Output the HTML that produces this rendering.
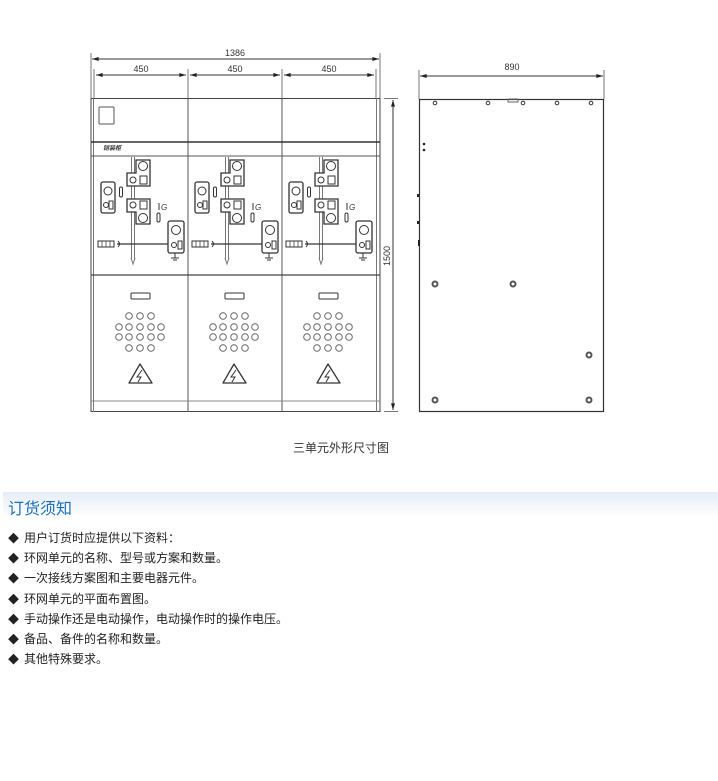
<!DOCTYPE html>
<html><head><meta charset="utf-8">
<style>
body{margin:0;width:718px;height:781px;background:#fff;position:relative;overflow:hidden;font-family:"Liberation Sans","Noto Sans CJK SC",sans-serif;}
svg{position:absolute;left:0;top:0}
.cap{position:absolute;left:293px;top:439px;font-size:12px;color:#333;}
.band{position:absolute;left:3px;top:492px;width:715px;height:25px;background:linear-gradient(#e6edf8,#f7f9fd 70%,#fff);}
.title{position:absolute;left:8px;top:495px;font-size:16px;color:#1a6fc0;}
.list{position:absolute;left:8px;top:528px;font-size:12px;color:#222;}
.list div{height:20.2px;line-height:20.2px;white-space:nowrap;}
.list div:before{content:"◆";margin-right:5px;font-size:11px;}
</style></head><body>
<svg width="718" height="470" viewBox="0 0 718 470" fill="none" stroke="#333" stroke-width="1">
<defs>
<marker id="a" viewBox="0 0 10 6" refX="10" refY="3" markerWidth="7" markerHeight="4" orient="auto-start-reverse"><path d="M0,0L10,3L0,6Z" fill="#222" stroke="none"/></marker>
<g id="col" stroke="#333">
  <line x1="131.5" y1="157" x2="131.5" y2="260" stroke="#777"/>
  <line x1="134.5" y1="157" x2="134.5" y2="260" stroke="#777"/>
  <path d="M131,258 L133,264 L135,258" stroke="#777"/>
  <path d="M138,160 H150 V186 H127 V173 H136 V160Z" stroke-width="1.3" fill="#fff"/>
  <circle cx="143" cy="166" r="4.5"/>
  <circle cx="133" cy="180" r="3"/>
  <rect x="140" y="176" width="7" height="8"/>
  <rect x="101" y="182" width="14" height="31" rx="2" stroke-width="1.3"/>
  <circle cx="108" cy="191" r="4"/>
  <circle cx="106" cy="205" r="2.5"/>
  <rect x="109" y="201" width="4" height="8"/>
  <rect x="119.5" y="187" width="3" height="10" rx="1.5"/>
  <path d="M127,199 H150 V224 H136 V212 H127Z" stroke-width="1.3" fill="#fff"/>
  <circle cx="133" cy="205" r="3"/>
  <rect x="140" y="201" width="7" height="8"/>
  <circle cx="143" cy="218" r="4.5"/>
  <line x1="159" y1="203" x2="159" y2="210"/>
  <text x="161" y="210" font-size="8" font-style="italic" fill="#333" stroke="none">G</text>
  <rect x="157" y="213" width="3" height="9" rx="1.5"/>
  <line x1="117" y1="244" x2="173" y2="244" stroke-width="1.2"/>
  <rect x="168" y="221" width="16" height="32" rx="2" stroke-width="1.3" fill="#fff"/>
  <circle cx="176" cy="230" r="4.5"/>
  <circle cx="174" cy="245" r="2.5"/>
  <rect x="178" y="241" width="4" height="8"/>
  <path d="M175,253 V258 M171,258 H179 M173,260 H177"/>
  <rect x="98" y="241" width="16" height="6"/>
  <path d="M102,241 V247 M106,241 V247 M110,241 V247" stroke-width=".7"/>
  <path d="M118,241 Q121,244 118,247 M121,244 H124"/>
  <rect x="131" y="293" width="19" height="6" rx="1"/>
  <g stroke="#666">
    <circle cx="129" cy="316" r="3.3"/><circle cx="140" cy="316" r="3.3"/><circle cx="151" cy="316" r="3.3"/>
    <circle cx="119" cy="327" r="3.3"/><circle cx="129" cy="327" r="3.3"/><circle cx="140" cy="327" r="3.3"/><circle cx="151" cy="327" r="3.3"/><circle cx="161" cy="327" r="3.3"/>
    <circle cx="119" cy="337" r="3.3"/><circle cx="129" cy="337" r="3.3"/><circle cx="140" cy="337" r="3.3"/><circle cx="151" cy="337" r="3.3"/><circle cx="161" cy="337" r="3.3"/>
    <circle cx="129" cy="348" r="3.3"/><circle cx="140" cy="348" r="3.3"/><circle cx="151" cy="348" r="3.3"/>
  </g>
  <path d="M140,364 L152,383 H129Z" stroke-width="1.3" stroke-linejoin="round"/>
  <path d="M142,370 L137,377 H141 L138,382" stroke-width="1"/>
</g>
</defs>
<line x1="91" y1="53" x2="91" y2="98" stroke="#777"/>
<line x1="380" y1="53" x2="380" y2="98" stroke="#777"/>
<line x1="92" y1="59" x2="379" y2="59" marker-start="url(#a)" marker-end="url(#a)"/>
<text x="235" y="56" font-size="9" fill="#333" stroke="none" text-anchor="middle">1386</text>
<line x1="94" y1="69" x2="94" y2="98" stroke="#777"/>
<line x1="188" y1="69" x2="188" y2="98" stroke="#777"/>
<line x1="282" y1="69" x2="282" y2="98" stroke="#777"/>
<line x1="376" y1="69" x2="376" y2="98" stroke="#777"/>
<line x1="96" y1="75" x2="186" y2="75" marker-start="url(#a)" marker-end="url(#a)"/>
<line x1="190" y1="75" x2="280" y2="75" marker-start="url(#a)" marker-end="url(#a)"/>
<line x1="284" y1="75" x2="374" y2="75" marker-start="url(#a)" marker-end="url(#a)"/>
<text x="141" y="72" font-size="9" fill="#333" stroke="none" text-anchor="middle">450</text>
<text x="235" y="72" font-size="9" fill="#333" stroke="none" text-anchor="middle">450</text>
<text x="329" y="72" font-size="9" fill="#333" stroke="none" text-anchor="middle">450</text>
<rect x="91" y="98.5" width="289" height="313" stroke="#444"/>
<line x1="93.5" y1="98" x2="93.5" y2="412" stroke="#777"/>
<line x1="376.5" y1="98" x2="376.5" y2="412" stroke="#777"/>
<line x1="188" y1="98" x2="188" y2="412" stroke="#555"/>
<line x1="282" y1="98" x2="282" y2="412" stroke="#555"/>
<line x1="91" y1="142" x2="380" y2="142" stroke-width="1.5" stroke="#333"/>
<line x1="91" y1="156" x2="380" y2="156" stroke="#555"/>
<line x1="91" y1="275" x2="380" y2="275" stroke="#444" stroke-width="1.2"/>
<line x1="91" y1="401" x2="380" y2="401" stroke="#888"/>
<rect x="99" y="107" width="15" height="17" rx="1" stroke="#555"/>
<text x="103" y="150" font-size="6" font-weight="bold" font-style="italic" fill="#333" stroke="none">铠装柜</text>
<use href="#col"/>
<use href="#col" transform="translate(94,0)"/>
<use href="#col" transform="translate(188,0)"/>
<line x1="384" y1="98.5" x2="398" y2="98.5" stroke="#777"/>
<line x1="384" y1="411.5" x2="398" y2="411.5" stroke="#777"/>
<line x1="393" y1="100" x2="393" y2="410" marker-start="url(#a)" marker-end="url(#a)"/>
<text x="0" y="0" font-size="9" fill="#333" stroke="none" text-anchor="middle" transform="translate(390,256) rotate(-90)">1500</text>
<line x1="419" y1="70" x2="419" y2="99" stroke="#777"/>
<line x1="604" y1="70" x2="604" y2="99" stroke="#777"/>
<line x1="420" y1="76" x2="603" y2="76" marker-start="url(#a)" marker-end="url(#a)"/>
<text x="512" y="70" font-size="9" fill="#333" stroke="none" text-anchor="middle">890</text>
<rect x="419.5" y="99.5" width="184" height="312" stroke="#333" stroke-width="1.2"/>
<rect x="508" y="99" width="10" height="3" stroke="#666"/>
<g stroke="#333" stroke-width="1"><circle cx="435" cy="103" r="1.8"/><circle cx="488" cy="103" r="1.8"/><circle cx="523" cy="103" r="1.8"/><circle cx="557" cy="103" r="1.8"/><circle cx="591" cy="103" r="1.8"/></g>
<g fill="#222" stroke="none"><circle cx="424" cy="144" r="1.3"/><circle cx="424" cy="150" r="1.3"/><rect x="417" y="194" width="2" height="3"/><rect x="417" y="221" width="2" height="3"/><rect x="418" y="240" width="2" height="6"/></g>
<g stroke="#555" stroke-width="2"><circle cx="435" cy="284" r="2.5"/><circle cx="513" cy="284" r="2.5"/><circle cx="589" cy="355" r="2.5"/><circle cx="435" cy="400" r="2.5"/><circle cx="589" cy="400" r="2.5"/></g>
</svg>
<div class="cap">三单元外形尺寸图</div>
<div class="band"></div>
<div class="title">订货须知</div>
<div class="list">
<div>用户订货时应提供以下资料：</div>
<div>环网单元的名称、型号或方案和数量。</div>
<div>一次接线方案图和主要电器元件。</div>
<div>环网单元的平面布置图。</div>
<div>手动操作还是电动操作，电动操作时的操作电压。</div>
<div>备品、备件的名称和数量。</div>
<div>其他特殊要求。</div>
</div>
</body></html>
